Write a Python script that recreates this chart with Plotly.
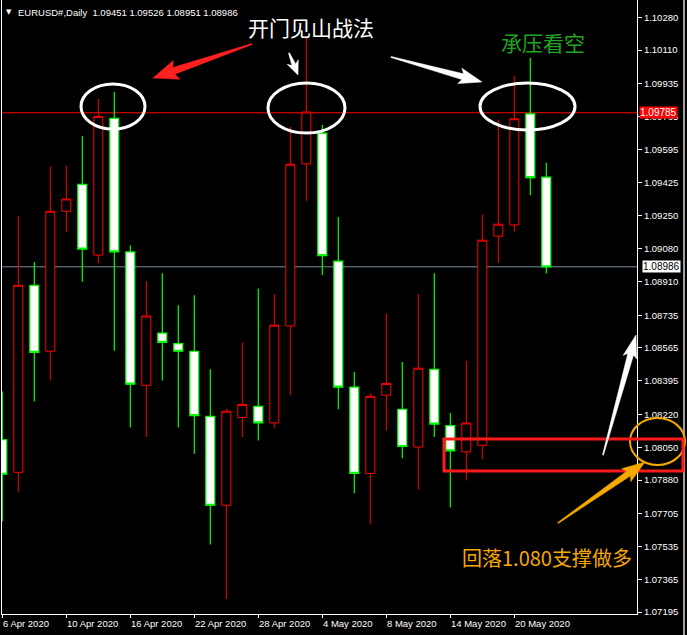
import plotly.graph_objects as go

# ---------------- data ----------------
days = ["6 Apr", "7 Apr", "8 Apr", "9 Apr", "10 Apr",
        "13 Apr", "14 Apr", "15 Apr", "16 Apr", "17 Apr",
        "20 Apr", "21 Apr", "22 Apr", "23 Apr", "24 Apr",
        "27 Apr", "28 Apr", "29 Apr", "30 Apr", "1 May",
        "4 May", "5 May", "6 May", "7 May", "8 May",
        "11 May", "12 May", "13 May", "14 May", "15 May",
        "18 May", "19 May", "20 May", "21 May", "22 May"]

open_ = [1.08089, 1.07920, 1.08890, 1.08548, 1.09274, 1.09414, 1.09047, 1.09756, 1.09063, 1.08371,
         1.08642, 1.08588, 1.08548, 1.08210, 1.07749, 1.08204, 1.08262, 1.08176, 1.08679, 1.09520,
         1.09679, 1.09015, 1.08362, 1.07914, 1.08320, 1.08247, 1.08051, 1.08454, 1.08162, 1.08026,
         1.08060, 1.09145, 1.09203, 1.09779, 1.09451]
high = [1.08339, 1.09251, 1.09011, 1.09505, 1.09510, 1.09664, 1.09856, 1.09894, 1.09097, 1.08911,
        1.08953, 1.08786, 1.08838, 1.08454, 1.08248, 1.08592, 1.08873, 1.08844, 1.09712, 1.10180,
        1.09722, 1.09245, 1.08441, 1.08329, 1.08742, 1.08492, 1.08844, 1.08953, 1.08227, 1.08498,
        1.09257, 1.09750, 1.09977, 1.10071, 1.09526]
low = [1.07666, 1.07820, 1.08287, 1.08396, 1.09165, 1.08909, 1.09005, 1.08550, 1.08152, 1.08104,
       1.08396, 1.08152, 1.08016, 1.07545, 1.07263, 1.08103, 1.08085, 1.08152, 1.08320, 1.09328,
       1.08944, 1.08247, 1.07811, 1.07653, 1.08137, 1.07993, 1.07830, 1.08103, 1.07738, 1.07878,
       1.07987, 1.09007, 1.09168, 1.09357, 1.08951]
close = [1.07910, 1.08890, 1.08542, 1.09274, 1.09338, 1.09078, 1.09766, 1.09063, 1.08377, 1.08731,
         1.08594, 1.08548, 1.08214, 1.07749, 1.08237, 1.08272, 1.08176, 1.08683, 1.09518, 1.09789,
         1.09044, 1.08362, 1.07914, 1.08314, 1.08381, 1.08054, 1.08460, 1.08170, 1.08031, 1.08176,
         1.09124, 1.09207, 1.09754, 1.09449, 1.08986]

x_tick_index = [0, 4, 8, 12, 16, 20, 24, 28, 32]
x_tick_labels = ["6 Apr 2020", "10 Apr 2020", "16 Apr 2020", "22 Apr 2020", "28 Apr 2020",
                 "4 May 2020", "8 May 2020", "14 May 2020", "20 May 2020"]

y_tick_labels = ["1.10280", "1.10110", "1.09935", "1.09765", "1.09595", "1.09425", "1.09250",
                 "1.09080", "1.08910", "1.08735", "1.08565", "1.08395", "1.08220", "1.08050",
                 "1.07880", "1.07705", "1.07535", "1.07365", "1.07195"]

resistance_level = 1.09785
bid_level = close[-1]
symbol = "EURUSD#,Daily"

# ---------------- figure ----------------
W, H = 687, 635
L, R, T, B = 1, 637, 0, 614  # plot area in pixels
FONT = "Liberation Sans, Arial"


def px(x):
    return (x - L) / (R - L)


def py(y):
    return (B - y) / (B - T)


xs = list(range(len(days)))

fig = go.Figure()
fig.add_trace(go.Candlestick(
    x=xs, open=open_, high=high, low=low, close=close,
    increasing=dict(line=dict(color="#ff0000", width=1), fillcolor="#000000"),
    decreasing=dict(line=dict(color="#00ff00", width=1.2), fillcolor="#ffffff"),
    whiskerwidth=0, hoverinfo="skip", showlegend=False,
))

shapes = []
# horizontal level lines
shapes.append(dict(type="line", xref="paper", yref="y", x0=0, x1=1,
                   y0=resistance_level, y1=resistance_level,
                   line=dict(color="#ff0000", width=1), layer="below"))
shapes.append(dict(type="line", xref="paper", yref="y", x0=0, x1=1,
                   y0=bid_level, y1=bid_level,
                   line=dict(color="#778899", width=1), layer="below"))
# left frame & window border
shapes.append(dict(type="line", xref="paper", yref="paper", x0=px(1.5), x1=px(1.5), y0=0, y1=1,
                   line=dict(color="#ffffff", width=1)))
shapes.append(dict(type="line", xref="paper", yref="paper", x0=px(684), x1=px(684), y0=py(635), y1=py(0),
                   line=dict(color="#a0a0a0", width=2)))

# white ellipses
for (x0, y0, x1, y1) in [(81, 84, 145, 129), (268, 83, 345, 133), (480, 83, 575, 130)]:
    shapes.append(dict(type="circle", xref="paper", yref="paper",
                       x0=px(x0), x1=px(x1), y0=py(y1), y1=py(y0),
                       line=dict(color="#ffffff", width=3)))
# orange ellipse
shapes.append(dict(type="circle", xref="paper", yref="paper",
                   x0=px(630), x1=px(685), y0=py(465), y1=py(418),
                   line=dict(color="#f5a800", width=2)))
# red rectangle
shapes.append(dict(type="rect", xref="paper", yref="paper",
                   x0=px(444), x1=px(683), y0=py(471), y1=py(439),
                   line=dict(color="#ff1a1a", width=3)))


def arrow_path(tail, tip, head_len, head_half, shaft_tail, shaft_head):
    import math
    dx, dy = tip[0] - tail[0], tip[1] - tail[1]
    ln = math.hypot(dx, dy)
    ux, uy = dx / ln, dy / ln
    nx, ny = -uy, ux
    bx, by = tip[0] - ux * head_len, tip[1] - uy * head_len
    pts = [
        (tail[0] + nx * shaft_tail, tail[1] + ny * shaft_tail),
        (bx + nx * shaft_head, by + ny * shaft_head),
        (bx + nx * head_half - ux * 3, by + ny * head_half - uy * 3),
        tip,
        (bx - nx * head_half - ux * 3, by - ny * head_half - uy * 3),
        (bx - nx * shaft_head, by - ny * shaft_head),
        (tail[0] - nx * shaft_tail, tail[1] - ny * shaft_tail),
    ]
    return "M " + " L ".join(f"{px(a):.5f},{py(b):.5f}" for a, b in pts) + " Z"


arrows = [
    ((252, 44), (153, 78), 22, 10, 0.5, 3.5, "#ff2020"),
    ((289, 53), (298, 75), 11, 6, 0.5, 2, "#ffffff"),
    ((391, 57), (482, 82), 20, 8, 0.5, 3, "#ffffff"),
    ((603, 455), (636, 335), 20, 7, 0.5, 3, "#ffffff"),
    ((558, 523), (645, 462), 20, 8, 0.5, 3, "#f5a800"),
]
for tail, tip, hl, hh, st, sh, col in arrows:
    shapes.append(dict(type="path", xref="paper", yref="paper",
                       path=arrow_path(tail, tip, hl, hh, st, sh),
                       fillcolor=col, line=dict(color=col, width=0.5)))

annotations = []
# date labels
for idx, lab in zip(x_tick_index, x_tick_labels):
    annotations.append(dict(x=idx, y=0, xref="x", yref="paper", text=lab, showarrow=False,
                            xanchor="left", yanchor="top", yshift=-2, xshift=-1,
                            font=dict(family=FONT, size=9.5, color="#ffffff")))
# price labels on axis
annotations.append(dict(x=1, y=resistance_level, xref="paper", yref="y",
                        text=f"{resistance_level:.5f}", showarrow=False, xanchor="left",
                        xshift=2, bgcolor="#ff0000", borderpad=0,
                        font=dict(family=FONT, size=10, color="#ffffff")))
annotations.append(dict(x=1, y=bid_level, xref="paper", yref="y",
                        text=f"{bid_level:.5f}", showarrow=False, xanchor="left",
                        xshift=5, bgcolor="#ffffff", borderpad=0,
                        font=dict(family=FONT, size=10, color="#000000")))
# header
header = f"{symbol}  {open_[-1]:.5f} {high[-1]:.5f} {low[-1]:.5f} {close[-1]:.5f}"
annotations.append(dict(x=px(4), y=py(12), xref="paper", yref="paper", text="▼", showarrow=False,
                        xanchor="left", yanchor="middle",
                        font=dict(family="DejaVu Sans", size=7, color="#ffffff")))
annotations.append(dict(x=px(16), y=py(12), xref="paper", yref="paper", text=header, showarrow=False,
                        xanchor="left", yanchor="middle",
                        font=dict(family=FONT, size=9.5, color="#ffffff")))
# chinese texts
cjk = "Noto Sans CJK SC"
annotations.append(dict(x=px(311), y=py(27), xref="paper", yref="paper", text="开门见山战法",
                        showarrow=False, xanchor="center", yanchor="middle",
                        font=dict(family=cjk, size=21, color="#ffffff")))
annotations.append(dict(x=px(543), y=py(42), xref="paper", yref="paper", text="承压看空",
                        showarrow=False, xanchor="center", yanchor="middle",
                        font=dict(family=cjk, size=21, color="#1fa51f")))
annotations.append(dict(x=px(547), y=py(557), xref="paper", yref="paper", text="回落1.080支撑做多",
                        showarrow=False, xanchor="center", yanchor="middle",
                        font=dict(family=cjk, size=20, color="#f5a800")))

y_top = 1.10370
y_bot = 1.07185

fig.update_layout(
    width=W, height=H,
    paper_bgcolor="#000000", plot_bgcolor="#000000",
    margin=dict(l=L, r=W - R, t=T, b=H - B, pad=0),
    boxgap=0.2, boxgroupgap=0.3,
    xaxis=dict(range=[(L - 2.3) / 16 + 0.0, (R - 2.3) / 16], showgrid=False, zeroline=False,
               rangeslider=dict(visible=False), showline=True, linecolor="#ffffff", linewidth=1,
               ticks="outside", ticklen=3, tickcolor="#ffffff", tickvals=x_tick_index,
               showticklabels=False, fixedrange=True),
    yaxis=dict(range=[y_bot, y_top], side="right", showgrid=False, zeroline=False,
               showline=True, linecolor="#ffffff", linewidth=1,
               ticks="outside", ticklen=4, tickcolor="#ffffff",
               tickvals=[float(v) for v in y_tick_labels], ticktext=y_tick_labels,
               tickfont=dict(family=FONT, size=9.5, color="#ffffff"),
               fixedrange=True),
    shapes=shapes, annotations=annotations,
    showlegend=False,
)

fig.write_html("out.html", config={"displayModeBar": False},
               post_script="document.body.style.margin='0';document.body.style.overflow='hidden';")
